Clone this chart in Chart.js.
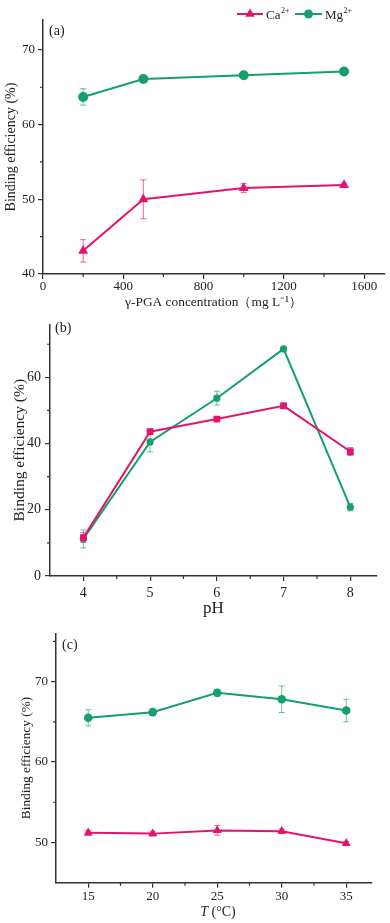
<!DOCTYPE html>
<html><head><meta charset="utf-8">
<script src="https://cdn.jsdelivr.net/npm/chart.js@4.4.1/dist/chart.umd.min.js"></script>
<style>html,body{margin:0;padding:0;background:#fff;width:390px;height:923px;overflow:hidden}.p{position:absolute;left:0}canvas{display:block}</style>
</head><body>
<div class="p" style="top:0"><canvas id="ca" width="390" height="312"></canvas></div>
<div class="p" style="top:312px"><canvas id="cb" width="390" height="308"></canvas></div>
<div class="p" style="top:620px"><canvas id="cc" width="390" height="303"></canvas></div>
<script>
// ---- data ----
const ionNames = ['Ca', 'Mg'];
const ionCharges = ['2+', '2+'];

const concA = [200, 500, 1000, 1500];
const caA = [43.1, 50.0, 51.5, 51.9];
const caAErr = [1.5, 2.6, 0.6, 0.3];
const mgA = [63.7, 66.1, 66.6, 67.1];
const mgAErr = [1.1, 0.3, 0.3, 0.3];
const xTicksA = [0, 400, 800, 1200, 1600];
const xMinorA = [200, 600, 1000, 1400];
const yTicksA = [40, 50, 60, 70];
const yMinorA = [45, 55, 65];

const pHB = [4, 5, 6, 7, 8];
const caB = [11.6, 43.6, 47.4, 51.4, 37.6];
const caBErr = [1.5, 0.8, 0.6, 0.8, 1.2];
const mgB = [11.2, 40.5, 53.7, 68.6, 20.8];
const mgBErr = [2.7, 3.0, 2.1, 0.6, 1.1];
const xTicksB = [4, 5, 6, 7, 8];
const xMinorB = [4.5, 5.5, 6.5, 7.5];
const yTicksB = [0, 20, 40, 60];
const yMinorB = [10, 30, 50, 70];

const tempC = [15, 20, 25, 30, 35];
const caC = [51.2, 51.1, 51.5, 51.4, 49.9];
const caCErr = [0.3, 0.3, 0.6, 0.3, 0.2];
const mgC = [65.5, 66.2, 68.6, 67.8, 66.4];
const mgCErr = [1.0, 0.4, 0.4, 1.65, 1.4];
const xTicksC = [15, 20, 25, 30, 35];
const xMinorC = [17.5, 22.5, 27.5, 32.5];
const yTicksC = [50, 60, 70];
const yMinorC = [55, 65, 75];

// ---- styles ----
const SERIF = "'Liberation Serif','Times New Roman',serif";
const PINK = '#E2146E', GREEN = '#13A06A';
const PINK_ERR = 'rgba(226,20,110,0.65)', GREEN_ERR = 'rgba(19,160,106,0.65)';
const AXIS = '#333';

function pts(xs, ys) { return xs.map((x, i) => ({ x: x, y: ys[i] })); }

const errorBars = {
  id: 'errorBars',
  beforeDatasetsDraw(chart) {
    const { ctx, scales: { x, y } } = chart;
    chart.data.datasets.forEach(ds => {
      if (!ds.errors) return;
      ctx.save();
      ctx.strokeStyle = ds.errorColor; ctx.lineWidth = 1;
      ctx.beginPath();
      ds.data.forEach((p, i) => {
        const e = ds.errors[i]; if (!e) return;
        const px = x.getPixelForValue(p.x);
        const t = y.getPixelForValue(p.y + e), b = y.getPixelForValue(p.y - e);
        ctx.moveTo(px, t); ctx.lineTo(px, b);
        ctx.moveTo(px - 3, t); ctx.lineTo(px + 3, t);
        ctx.moveTo(px - 3, b); ctx.lineTo(px + 3, b);
      });
      ctx.stroke();
      ctx.restore();
    });
  }
};

const decor = {
  id: 'decor',
  afterDraw(chart, args, o) {
    const { ctx, chartArea, scales: { x, y } } = chart;
    ctx.save();
    ctx.strokeStyle = AXIS; ctx.lineWidth = 1.2;
    ctx.beginPath();
    (o.x || []).forEach(v => { const px = x.getPixelForValue(v); ctx.moveTo(px, chartArea.bottom); ctx.lineTo(px, chartArea.bottom + 3); });
    (o.y || []).forEach(v => { const py = y.getPixelForValue(v); ctx.moveTo(chartArea.left, py); ctx.lineTo(chartArea.left - 3, py); });
    ctx.stroke();
    ctx.fillStyle = '#222'; ctx.font = '14px ' + SERIF; ctx.textBaseline = 'middle'; ctx.textAlign = 'left';
    ctx.fillText(o.label, chartArea.left + o.lx, chartArea.top + o.ly);
    if (o.titleParts) {
      // x-axis title with mixed italic / upright parts
      const parts = o.titleParts;
      let total = 0;
      parts.forEach(p => { ctx.font = p.style + ' ' + o.titleSize + 'px ' + SERIF; p.w = ctx.measureText(p.text).width; total += p.w; });
      let cx = (chartArea.left + chartArea.right) / 2 - total / 2 + (o.titleDx || 0);
      ctx.textAlign = 'left'; ctx.textBaseline = 'middle';
      parts.forEach(p => { ctx.font = p.style + ' ' + o.titleSize + 'px ' + SERIF; ctx.fillText(p.text, cx, o.titleY); cx += p.w; });
    }
    ctx.restore();
  }
};

function drawMarker(ctx, style, r, cx, cy) {
  ctx.beginPath();
  if (style === 'triangle') {
    ctx.moveTo(cx, cy - r);
    ctx.lineTo(cx + r * 0.866, cy + r * 0.5);
    ctx.lineTo(cx - r * 0.866, cy + r * 0.5);
    ctx.closePath();
  } else {
    ctx.arc(cx, cy, r, 0, Math.PI * 2);
  }
  ctx.fill();
}

const legendA = {
  id: 'legendA',
  afterDraw(chart) {
    const ctx = chart.ctx;
    const slots = [{ x0: 237, x1: 263, tx: 266 }, { x0: 295, x1: 322, tx: 325 }];
    const yc = 14;
    ctx.save();
    chart.data.datasets.forEach((ds, i) => {
      const s = slots[i];
      ctx.strokeStyle = ds.borderColor; ctx.fillStyle = ds.borderColor; ctx.lineWidth = 2;
      ctx.beginPath(); ctx.moveTo(s.x0, yc); ctx.lineTo(s.x1, yc); ctx.stroke();
      drawMarker(ctx, ds.pointStyle, ds.pointStyle === 'triangle' ? 5.5 : 4.5, (s.x0 + s.x1) / 2, yc);
      ctx.fillStyle = '#222'; ctx.textBaseline = 'alphabetic'; ctx.textAlign = 'left';
      ctx.font = '13px ' + SERIF;
      ctx.fillText(ionNames[i], s.tx, yc + 4.5);
      const w = ctx.measureText(ionNames[i]).width;
      ctx.font = '8px ' + SERIF;
      ctx.fillText(ionCharges[i], s.tx + w + 0.5, yc - 1.5);
    });
    ctx.restore();
  }
};

function series(label, xs, ys, errs, color, errColor, style, r) {
  return {
    label: label, data: pts(xs, ys), errors: errs, errorColor: errColor,
    borderColor: color, backgroundColor: color, pointBackgroundColor: color, pointBorderColor: color,
    borderWidth: 2, pointStyle: style, pointRadius: r, pointBorderWidth: 0, tension: 0, fill: false
  };
}

function panel(id, o, extra) {
  return new Chart(document.getElementById(id), {
    type: 'line',
    data: { datasets: o.datasets },
    options: {
      responsive: false, animation: false, devicePixelRatio: 1,
      layout: { padding: { top: o.padTop, right: o.padRight, left: 0, bottom: 0 } },
      plugins: { legend: { display: false }, tooltip: { enabled: false }, decor: o.decor },
      scales: {
        x: {
          type: 'linear', min: o.xMin, max: o.xMax,
          afterBuildTicks: s => { s.ticks = o.xTicks.map(v => ({ value: v })); },
          afterFit: s => { s.height = o.xH; },
          border: { color: AXIS, width: 1.5 },
          grid: { drawOnChartArea: false, tickLength: 5, color: AXIS, lineWidth: 1.2 },
          ticks: { font: { family: SERIF, size: o.tickSize }, color: '#222', padding: o.xPad, maxRotation: 0, autoSkip: false, callback: v => String(v) },
          title: { display: !!o.xTitle, text: o.xTitle || '', font: { family: SERIF, size: o.xTitleSize }, color: '#222', padding: { top: 0, bottom: o.xTitlePad } }
        },
        y: {
          type: 'linear', min: o.yMin, max: o.yMax,
          afterBuildTicks: s => { s.ticks = o.yTicks.map(v => ({ value: v })); },
          afterFit: s => { s.width = o.yW; },
          border: { color: AXIS, width: 1.5 },
          grid: { drawOnChartArea: false, tickLength: 5, color: AXIS, lineWidth: 1.2 },
          ticks: { font: { family: SERIF, size: o.tickSize }, color: '#222', padding: o.yPad, autoSkip: false, callback: v => String(v) },
          title: { display: true, text: 'Binding efficiency (%)', font: { family: SERIF, size: o.yTitleSize }, color: '#222', padding: { top: o.yTitlePad, bottom: 0 } }
        }
      }
    },
    plugins: [errorBars, decor].concat(extra || [])
  });
}

panel('ca', {
  datasets: [
    series('Ca²⁺', concA, caA, caAErr, PINK, PINK_ERR, 'triangle', 5.8),
    series('Mg²⁺', concA, mgA, mgAErr, GREEN, GREEN_ERR, 'circle', 5)
  ],
  padTop: 20, padRight: 5, xH: 38, yW: 43,
  xMin: 0, xMax: 1700, yMin: 40, yMax: 74,
  xTicks: xTicksA, yTicks: yTicksA, tickSize: 13, xPad: 0, yPad: 3,
  xTitle: 'γ-PGA concentration（mg L⁻¹）', xTitleSize: 13.4, xTitlePad: 1,
  yTitleSize: 14, yTitlePad: 2.6,
  decor: { x: xMinorA, y: yMinorA, label: '(a)', lx: 6, ly: 11 }
}, [legendA]);

panel('cb', {
  datasets: [
    series('Ca²⁺', pHB, caB, caBErr, PINK, PINK_ERR, 'rect', 4.8),
    series('Mg²⁺', pHB, mgB, mgBErr, GREEN, GREEN_ERR, 'circle', 3.6)
  ],
  padTop: 12.4, padRight: 13, xH: 44, yW: 50,
  xMin: 3.5, xMax: 8.4, yMin: 0, yMax: 76,
  xTicks: xTicksB, yTicks: yTicksB, tickSize: 14, xPad: 4, yPad: 4,
  xTitle: 'pH', xTitleSize: 17, xTitlePad: 1.5,
  yTitleSize: 15.5, yTitlePad: 10.7,
  decor: { x: xMinorB, y: yMinorB, label: '(b)', lx: 5, ly: 4 }
});

panel('cc', {
  datasets: [
    series('Ca²⁺', tempC, caC, caCErr, PINK, PINK_ERR, 'triangle', 5.2),
    series('Mg²⁺', tempC, mgC, mgCErr, GREEN, GREEN_ERR, 'circle', 4.3)
  ],
  padTop: 13.3, padRight: 18, xH: 40.3, yW: 56,
  xMin: 12.5, xMax: 37, yMin: 45, yMax: 76,
  xTicks: xTicksC, yTicks: yTicksC, tickSize: 13, xPad: 1.5, yPad: 3,
  xTitle: '', xTitleSize: 14, xTitlePad: 3,
  yTitleSize: 13.3, yTitlePad: 19,
  decor: {
    x: xMinorC, y: yMinorC, label: '(c)', lx: 6, ly: 12,
    titleParts: [{ text: 'T', style: 'italic' }, { text: ' (°C)', style: 'normal' }],
    titleSize: 14, titleY: 292, titleDx: 4
  }
});
</script>
</body></html>
